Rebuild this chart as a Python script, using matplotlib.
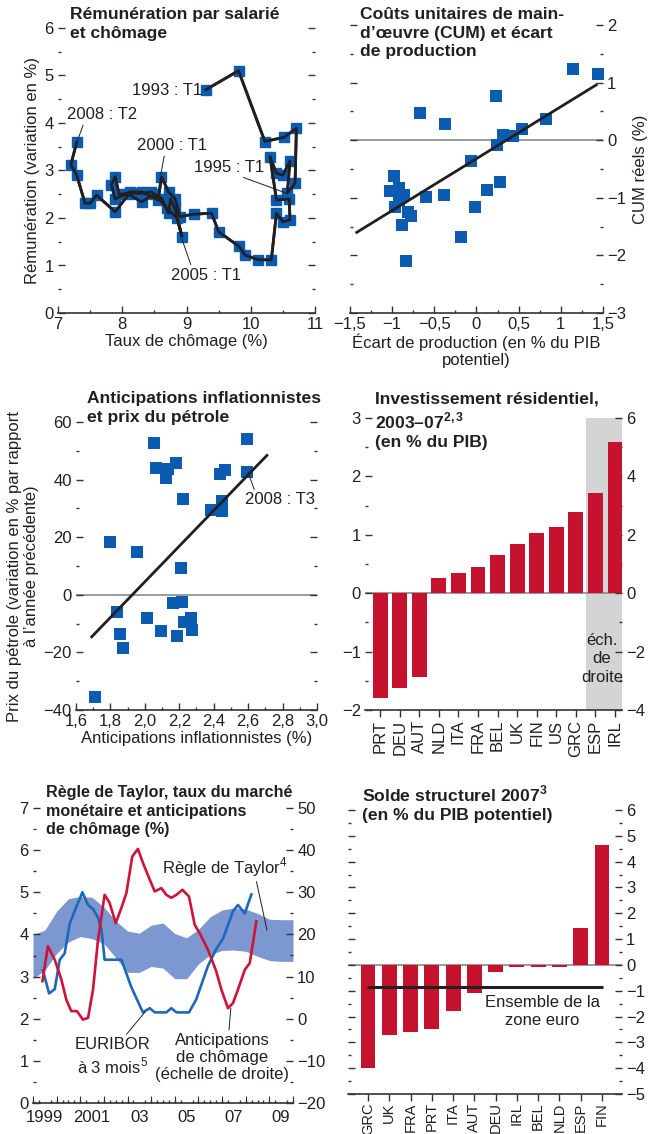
import numpy as np
import matplotlib
matplotlib.use('Agg')
import matplotlib.pyplot as plt
from matplotlib import font_manager
from matplotlib.ticker import MultipleLocator

names = {f.name for f in font_manager.fontManager.ttflist}
FONT = 'Liberation Sans Narrow' if 'Liberation Sans Narrow' in names else 'Liberation Sans'
plt.rcParams['font.family'] = [FONT, 'DejaVu Sans']
plt.rcParams['mathtext.fontset'] = 'custom'
plt.rcParams['mathtext.rm'] = FONT
plt.rcParams['mathtext.bf'] = FONT + ':bold'
plt.rcParams['axes.unicode_minus'] = True

# ---------------- DATA ----------------
# Panel 1: compensation per employee vs unemployment (quarterly path)
p1_unemp = [9.30, 9.81, 10.22, 10.52, 10.71, 10.69, 10.57, 10.61, 10.50, 10.40, 10.30, 10.40,
            10.60, 10.61, 10.50, 10.40, 10.32, 10.12, 9.91, 9.82, 9.50, 9.39, 9.11, 8.90,
            8.82, 8.72, 8.61, 8.56, 8.30, 8.12, 7.89, 7.83, 7.89, 7.95, 8.12, 8.28, 8.45,
            8.62, 8.72, 8.75, 8.82, 8.93, 8.85, 8.70, 8.50, 8.30, 8.10, 7.89, 7.60, 7.50,
            7.42, 7.29, 7.20, 7.29]
p1_comp = [4.70, 5.10, 3.61, 3.70, 3.89, 2.73, 2.53, 3.20, 2.90, 2.94, 3.29, 2.38,
           2.40, 1.96, 1.92, 2.10, 1.12, 1.12, 1.22, 1.40, 1.71, 2.10, 2.08, 2.03,
           2.41, 2.55, 2.87, 2.38, 2.55, 2.55, 2.40, 2.70, 2.87, 2.50, 2.52, 2.52, 2.55,
           2.40, 2.10, 2.40, 2.20, 1.61, 2.00, 2.20, 2.50, 2.34, 2.50, 2.13, 2.48, 2.31,
           2.31, 2.91, 3.12, 3.59]
p1_labels = ["1993 : T1", "2008 : T2", "2000 : T1", "1995 : T1", "2005 : T1"]

# Panel 2: real ULC vs output gap
p2_gap = [1.14, 1.44, 0.23, -0.67, -0.37, 0.83, 0.54, 0.43, 0.32, 0.24, -0.06, 0.28, 0.13,
          -0.02, -0.18, -0.38, -0.60, -0.98, -1.03, -0.92, -0.86, -0.92, -0.97, -0.81,
          -0.78, -0.88, -0.84]
p2_ulc = [1.23, 1.15, 0.76, 0.48, 0.28, 0.36, 0.19, 0.08, 0.09, -0.08, -0.36, -0.72, -0.86,
          -1.16, -1.68, -0.96, -0.98, -0.63, -0.88, -0.83, -0.96, -1.03, -1.16, -1.25,
          -1.31, -1.48, -2.10]
p2_fit_x = [-1.42, 1.42]
p2_fit_y = [-1.60, 0.96]

# Panel 3: inflation expectations vs oil prices
p3_infl = [2.593, 2.056, 2.063, 2.137, 2.123, 2.180, 2.438, 2.467, 2.593, 2.224, 2.449,
           2.383, 2.449, 1.798, 1.957, 2.209, 2.166, 2.215, 1.837, 2.011, 2.094, 2.230,
           2.267, 2.273, 2.186, 1.856, 1.871, 1.710]
p3_oil = [54.1, 52.7, 43.9, 43.8, 40.6, 45.8, 41.8, 43.2, 42.7, 33.2, 32.6, 29.4, 29.0,
          18.3, 14.8, 9.4, -2.8, -2.4, -5.9, -8.0, -12.5, -9.5, -7.9, -12.3, -14.3,
          -13.6, -18.3, -35.4]
p3_fit_x = [1.691, 2.709]
p3_fit_y = [-14.6, 48.4]

# Panel 4: residential investment 2003-07 (% of GDP)
p4_countries = ["PRT", "DEU", "AUT", "NLD", "ITA", "FRA", "BEL", "UK", "FIN", "US", "GRC", "ESP", "IRL"]
p4_left = [-1.79, -1.63, -1.43, 0.26, 0.35, 0.45, 0.66, 0.85, 1.03, 1.14, 1.39]
p4_right = [3.43, 5.17]   # ESP, IRL on right scale

# Panel 5: Taylor rule, Euribor, unemployment expectations
eur_t = [1999.42, 1999.68, 1999.92, 2000.13, 2000.34, 2000.55, 2000.83, 2001.09, 2001.33,
         2001.54, 2001.75, 2001.90, 2002.03, 2002.39, 2002.74, 2003.16, 2003.65, 2003.94,
         2004.15, 2004.64, 2004.85, 2005.07, 2005.60, 2005.90, 2006.40, 2006.75, 2007.04,
         2007.46, 2007.67, 2007.96, 2008.24]
eur_v = [3.15, 2.60, 2.70, 3.40, 3.55, 4.25, 4.65, 5.00, 4.70, 4.60, 4.40, 4.10, 3.40,
         3.40, 3.40, 2.75, 2.15, 2.25, 2.15, 2.15, 2.25, 2.15, 2.15, 2.45, 3.25, 3.65,
         3.90, 4.55, 4.70, 4.50, 4.95]
ue_t = [1999.40, 1999.63, 1999.92, 2000.20, 2000.41, 2000.62, 2000.86, 2001.11, 2001.33,
        2001.54, 2001.75, 2002.03, 2002.24, 2002.50, 2002.74, 2002.95, 2003.20, 2003.44,
        2003.65, 2003.94, 2004.15, 2004.43, 2004.64, 2004.85, 2005.07, 2005.32, 2005.60,
        2005.84, 2006.05, 2006.40, 2006.75, 2006.97, 2007.25, 2007.46, 2007.67, 2007.96,
        2008.17, 2008.45]
ue_v = [8.9, 17.2, 14.0, 9.3, 4.5, 1.8, 1.8, -0.2, 0.2, 6.9, 18.7, 29.4, 27.5, 22.7, 26.3,
        29.8, 38.5, 40.3, 37.0, 33.0, 30.2, 31.0, 29.4, 28.7, 29.4, 30.6, 29.0, 22.3, 20.3,
        16.4, 11.3, 6.9, 2.5, 3.7, 6.9, 11.6, 13.2, 23.1]
taylor_t = [1999.0, 1999.5, 2000.0, 2000.5, 2001.0, 2001.5, 2002.0, 2002.5, 2003.0, 2003.5,
            2004.0, 2004.5, 2005.0, 2005.5, 2006.0, 2006.5, 2007.0, 2007.5, 2008.0, 2008.5,
            2009.0, 2009.5, 2010.0]
taylor_hi = [4.00, 4.10, 4.55, 4.85, 4.90, 4.88, 4.65, 4.32, 4.08, 4.03, 4.22, 4.27, 4.02,
             3.92, 4.12, 4.42, 4.58, 4.63, 4.60, 4.50, 4.36, 4.35, 4.35]
taylor_lo = [2.95, 3.15, 3.55, 3.82, 3.95, 3.90, 3.78, 3.45, 3.10, 3.10, 3.24, 3.20, 2.95,
             2.95, 3.30, 3.52, 3.62, 3.63, 3.60, 3.48, 3.38, 3.36, 3.36]
p5_year_labels = ["1999", "2001", "03", "05", "07", "09"]
p5_year_pos = [1999, 2001, 2003, 2005, 2007, 2009]

# Panel 6: structural balance 2007
p6_countries = ["GRC", "UK", "FRA", "PRT", "ITA", "AUT", "DEU", "IRL", "BEL", "NLD", "ESP", "FIN"]
p6_values = [-4.00, -2.73, -2.60, -2.48, -1.78, -1.09, -0.26, -0.09, -0.08, -0.08, 1.44, 4.63]
p6_euro = -0.85

# ---------------- STYLE ----------------
BLUE_SQ = '#0b5cb0'
RED = '#c4122f'
BAND = '#7d98d1'
BLUE_LN = '#1c68bb'
RED_LN = '#cf1237'
DARK = '#231f20'
TXT = '#231f20'
FS = 12
TFS = 12.6

W, H = 650, 1134
fig = plt.figure(figsize=(W / 100, H / 100), dpi=100)


def add_ax(l, r, t, b):
    return fig.add_axes([l / W, 1 - b / H, (r - l) / W, (b - t) / H])


def style(ax, bottom=True):
    for s in ['left', 'right', 'top']:
        ax.spines[s].set_visible(False)
    ax.spines['bottom'].set_visible(bottom)
    ax.spines['bottom'].set_color('#333333')
    ax.spines['bottom'].set_linewidth(1.2)
    ax.tick_params(which='both', direction='in', colors='#333333', labelcolor=TXT,
                   labelsize=FS, width=1.0)
    ax.tick_params(which='major', length=5, pad=3)
    ax.tick_params(which='minor', length=2.5)


def fmt(v):
    s = ('%g' % v).replace('.', ',')
    return s.replace('-', '\u2212')


def title(x, y, s, size=TFS):
    fig.text(x / W, 1 - y / H, s, ha='left', va='top', fontsize=size, fontweight='bold',
             color=TXT, linespacing=1.3)

# ---------- Panel 1 ----------
ax1 = add_ax(58, 315, 28, 313)
style(ax1)
ax1.plot(p1_unemp, p1_comp, color=DARK, lw=2.0, zorder=3,
         marker='s', ms=6.8, mfc=BLUE_SQ, mec=BLUE_SQ)
ax1.plot(p1_unemp, p1_comp, color=DARK, lw=2.0, zorder=4)
ax1.set_xlim(7, 11)
ax1.set_ylim(0, 6)
ax1.xaxis.set_major_locator(MultipleLocator(1))
ax1.xaxis.set_minor_locator(MultipleLocator(0.5))
ax1.yaxis.set_major_locator(MultipleLocator(1))
ax1.yaxis.set_minor_locator(MultipleLocator(0.5))
ax1.tick_params(axis='y', which='both', left=True, right=True, labelleft=True)
ax1.set_xlabel("Taux de chômage (%)", fontsize=FS, color=TXT, labelpad=1)
ax1.set_ylabel("Rémunération (variation en %)", fontsize=FS, color=TXT, labelpad=3)
kw = dict(fontsize=FS, color=TXT)
lk = dict(arrowstyle='-', color=DARK, lw=0.7, shrinkA=0, shrinkB=0)
ax1.text(9.25, 4.68, p1_labels[0], ha='right', va='center', **kw)
ax1.annotate(p1_labels[1], xy=(7.3, 3.62), xytext=(7.68, 4.17), ha='center', va='center',
             arrowprops=dict(lk, relpos=(0.25, 0)), **kw)
ax1.annotate(p1_labels[2], xy=(8.6, 2.92), xytext=(8.77, 3.52), ha='center', va='center',
             arrowprops=dict(lk, relpos=(0.4, 0)), **kw)
ax1.annotate(p1_labels[3], xy=(10.56, 2.52), xytext=(9.66, 3.07), ha='center', va='center',
             arrowprops=dict(lk, relpos=(0.6, 0)), **kw)
ax1.annotate(p1_labels[4], xy=(8.93, 1.55), xytext=(9.30, 0.80), ha='center', va='center',
             arrowprops=dict(lk, relpos=(0.3, 1)), **kw)
title(70, 7, "Rémunération par salarié\net chômage")

# ---------- Panel 2 ----------
ax2 = add_ax(350, 603, 25, 313)
style(ax2)
ax2.axhline(0, color='#8a8a8a', lw=1.2, zorder=1)
ax2.scatter(p2_gap, p2_ulc, marker='s', s=70, color=BLUE_SQ, zorder=3, linewidths=0)
ax2.plot(p2_fit_x, p2_fit_y, color=DARK, lw=2.0, zorder=4)
ax2.set_xlim(-1.5, 1.5)
ax2.set_ylim(-3, 2)
p2_xt = [-1.5, -1, -0.5, 0, 0.5, 1, 1.5]
ax2.set_xticks(p2_xt, [fmt(v) for v in p2_xt])
ax2.xaxis.set_minor_locator(MultipleLocator(0.25))
p2_yt = [-3, -2, -1, 0, 1, 2]
ax2.set_yticks(p2_yt, [fmt(v) for v in p2_yt])
ax2.yaxis.set_minor_locator(MultipleLocator(0.5))
ax2.tick_params(axis='y', which='both', left=True, right=True, labelleft=False, labelright=True)
ax2.yaxis.set_label_position('right')
ax2.set_ylabel("CUM réels (%)", fontsize=FS, color=TXT, labelpad=5)
ax2.set_xlabel("Écart de production (en % du PIB\npotentiel)", fontsize=FS, color=TXT,
               labelpad=1, linespacing=1.15)
title(360, 7, "Coûts unitaires de main-\nd’œuvre (CUM) et écart\nde production")

# ---------- Panel 3 ----------
ax3 = add_ax(76, 317, 422, 710)
style(ax3)
ax3.axhline(0, color='#8a8a8a', lw=1.2, zorder=1)
ax3.scatter(p3_infl, p3_oil, marker='s', s=70, color=BLUE_SQ, zorder=3, linewidths=0)
ax3.plot(p3_fit_x, p3_fit_y, color=DARK, lw=2.0, zorder=4)
ax3.set_xlim(1.6, 3.0)
ax3.set_ylim(-40, 60)
p3_xt = [1.6, 1.8, 2.0, 2.2, 2.4, 2.6, 2.8, 3.0]
ax3.set_xticks(p3_xt, [('%.1f' % v).replace('.', ',') for v in p3_xt])
ax3.xaxis.set_minor_locator(MultipleLocator(0.1))
p3_yt = [-40, -20, 0, 20, 40, 60]
ax3.set_yticks(p3_yt, [fmt(v) for v in p3_yt])
ax3.yaxis.set_minor_locator(MultipleLocator(10))
ax3.tick_params(axis='y', which='both', left=True, right=True)
ax3.set_xlabel("Anticipations inflationnistes (%)", fontsize=FS, color=TXT, labelpad=1)
ax3.set_ylabel("Prix du pétrole (variation en % par rapport\nà l’année précédente)",
               fontsize=FS, color=TXT, labelpad=3, linespacing=1.15)
ax3.annotate("2008 : T3", xy=(2.60, 42.5), xytext=(2.58, 33.0), ha='left', va='center',
             arrowprops=dict(lk, relpos=(0.15, 1)), **kw)
title(87, 391, "Anticipations inflationnistes\net prix du pétrole")

# ---------- Panel 4 ----------
ax4 = add_ax(365, 622, 418, 710)
style(ax4)
n4 = len(p4_countries)
x4 = np.arange(n4)
ax4.set_xlim(-0.77, n4 - 1 + 0.36)
ax4.set_ylim(-2, 3)
ax4.axvspan(10.5, n4 - 1 + 0.36, color='#d3d4d6', lw=0, zorder=0)
ax4.axhline(0, color='#8a8a8a', lw=1.2, zorder=1)
ax4.bar(x4[:len(p4_left)], p4_left, width=0.76, color=RED, zorder=2)
ax4.yaxis.set_minor_locator(MultipleLocator(0.5))
ax4.set_yticks([-2, -1, 0, 1, 2, 3], [fmt(v) for v in [-2, -1, 0, 1, 2, 3]])
ax4.set_xticks(x4, p4_countries, rotation=90)
ax4.tick_params(axis='x', direction='out', length=5, pad=2)
ax4b = ax4.twinx()
style(ax4b, bottom=False)
ax4b.set_ylim(-4, 6)
ax4b.bar(x4[len(p4_left):], p4_right, width=0.76, color=RED, zorder=2)
ax4b.set_yticks([-4, -2, 0, 2, 4, 6], [fmt(v) for v in [-4, -2, 0, 2, 4, 6]])
ax4b.yaxis.set_minor_locator(MultipleLocator(1))
ax4b.tick_params(axis='y', which='both', left=False, right=True, labelright=True)
ax4.text(11.33, -1.12, "éch.\nde\ndroite", ha='center', va='center', fontsize=FS,
         color=TXT, linespacing=1.3, zorder=5)
title(375, 391, "Investissement résidentiel,\n2003–07$^{\\mathbf{2,3}}$\n(en % du PIB)")

# ---------- Panel 5 ----------
ax5 = add_ax(33, 293, 808, 1103)
style(ax5)
ax5.set_xlim(1999, 2010)
ax5.set_ylim(0, 7)
ax5.fill_between(taylor_t, taylor_lo, taylor_hi, color=BAND, lw=0, zorder=1)
ax5.plot(eur_t, eur_v, color=BLUE_LN, lw=1.9, zorder=3)
ax5.yaxis.set_major_locator(MultipleLocator(1))
ax5.yaxis.set_minor_locator(MultipleLocator(0.5))
ax5.set_xticks([p + 0.5 for p in p5_year_pos], p5_year_labels)
ax5.set_xticks(np.arange(1999, 2010.01, 0.25), minor=True)
ax5.tick_params(axis='x', which='major', length=0, pad=5)
ax5.tick_params(axis='x', which='minor', length=2.5)
sec = ax5.secondary_xaxis('bottom')
sec.set_xticks(np.arange(1999, 2011, 1), [''] * 12)
sec.tick_params(direction='in', length=5, colors='#333333')
sec.spines['bottom'].set_visible(False)
ax5b = ax5.twinx()
style(ax5b, bottom=False)
ax5b.set_ylim(-20, 50)
ax5b.plot(ue_t, ue_v, color=RED_LN, lw=1.9, zorder=3)
ax5b.yaxis.set_minor_locator(MultipleLocator(5))
ax5b.set_yticks([-20, -10, 0, 10, 20, 30, 40, 50],
                [fmt(v) for v in [-20, -10, 0, 10, 20, 30, 40, 50]])
ax5b.tick_params(axis='y', which='both', left=False, right=True, labelright=True)
ax5.annotate("Règle de Taylor$^4$", xy=(2008.9, 4.1), xytext=(2007.1, 5.6), ha='center',
             va='center', arrowprops=dict(lk, relpos=(0.75, 0)), zorder=6, **kw)
ax5.annotate("EURIBOR\nà 3 mois$^5$", xy=(2003.74, 2.16), xytext=(2002.38, 1.1), ha='center',
             va='center', linespacing=1.2, arrowprops=dict(lk, relpos=(0.65, 1)), zorder=6, **kw)
ax5.annotate("Anticipations\nde chômage\n(échelle de droite)", xy=(2007.37, 2.25),
             xytext=(2007.0, 1.08), ha='center', va='center', linespacing=1.2,
             arrowprops=dict(lk, relpos=(0.55, 1)), zorder=6, **kw)
title(46, 785, "Règle de Taylor, taux du marché\nmonétaire et anticipations\nde chômage (%)",
      size=11.6)

# ---------- Panel 6 ----------
ax6 = add_ax(348, 622, 810, 1094)
style(ax6)
n6 = len(p6_countries)
x6 = np.arange(n6)
ax6.set_xlim(-0.94, n6 - 1 + 0.94)
ax6.set_ylim(-5, 6)
ax6.axhline(0, color='#8a8a8a', lw=1.2, zorder=1)
ax6.bar(x6, p6_values, width=0.7, color=RED, zorder=2)
ax6.hlines(p6_euro, x6[0] - 0.05, x6[-1] + 0.05, color=DARK, lw=2.2, zorder=3)
ax6.set_yticks(list(range(-5, 7)), [fmt(v) for v in range(-5, 7)])
ax6.yaxis.set_minor_locator(MultipleLocator(0.5))
ax6.tick_params(axis='y', which='both', left=True, right=True, labelleft=False, labelright=True)
ax6.set_xticks(x6, p6_countries, rotation=90)
ax6.tick_params(axis='x', direction='out', length=5, pad=1, labelsize=10.5)
ax6.text(8.2, -1.8, "Ensemble de la\nzone euro", ha='center', va='center', fontsize=FS,
         color=TXT, linespacing=1.25)
title(362, 784, "Solde structurel 2007$^{\\mathbf{3}}$\n(en % du PIB potentiel)")

fig.savefig('out.png', dpi=100)
